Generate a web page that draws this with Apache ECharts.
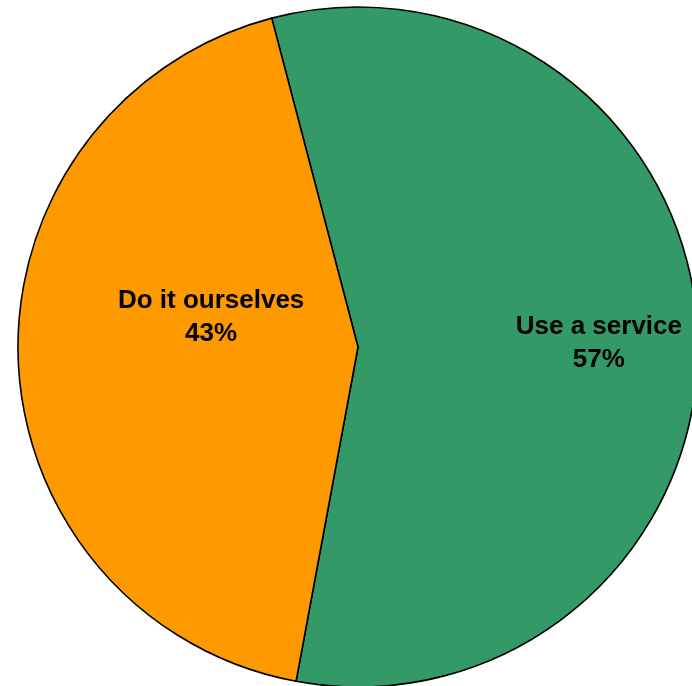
<!DOCTYPE html>
<html>
<head>
<meta charset="utf-8">
<script src="https://cdn.jsdelivr.net/npm/echarts@6/dist/echarts.min.js"></script>
<style>
html,body{margin:0;padding:0;background:#fff;}
#chart{width:692px;height:686px;}
</style>
</head>
<body>
<div id="chart"></div>
<script>
var categories = ["Use a service", "Do it ourselves"];
var values = [57, 43];
var colors = ["#339966", "#FF9900"];
var labelShift = [[68, 3], [26, -36]];

var chart = echarts.init(document.getElementById('chart'), null, {renderer: 'canvas'});
chart.setOption({
  animation: false,
  backgroundColor: '#ffffff',
  series: [{
    type: 'pie',
    center: [358, 347],
    radius: [0, 340],
    startAngle: 104.7,
    clockwise: true,
    avoidLabelOverlap: false,
    data: categories.map(function (c, i) {
      return {name: c, value: values[i], itemStyle: {color: colors[i]}};
    }),
    itemStyle: {borderColor: '#000000', borderWidth: 1.6},
    label: {
      show: true,
      position: 'inside',
      formatter: function (p) { return p.name + '\n' + Math.round(p.percent) + '%'; },
      color: '#000000',
      fontFamily: 'Liberation Sans, Arial, sans-serif',
      fontWeight: 'bold',
      fontSize: 26,
      lineHeight: 33,
      align: 'center'
    },
    labelLine: {show: false},
    labelLayout: function (params) {
      var s = labelShift[params.dataIndex];
      return {dx: s[0], dy: s[1]};
    },
    emphasis: {disabled: true}
  }]
});
</script>
</body>
</html>
